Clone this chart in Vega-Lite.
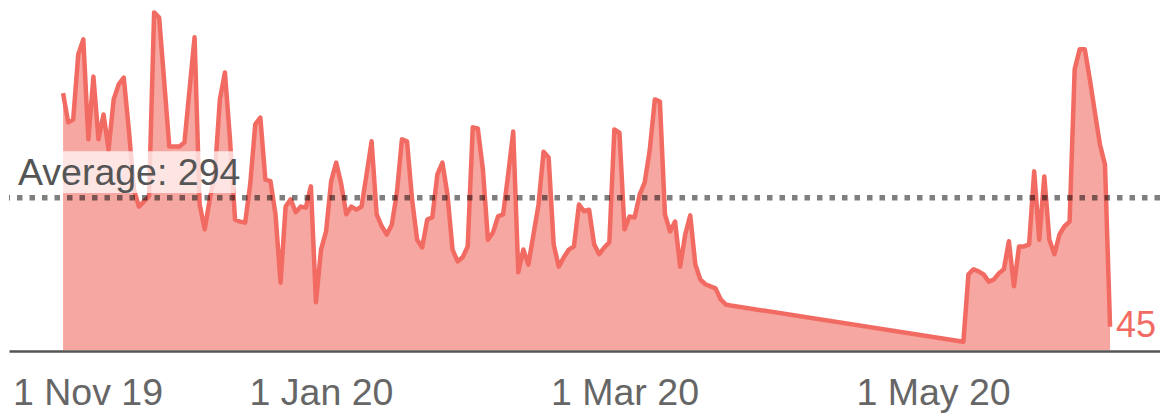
{
  "$schema": "https://vega.github.io/schema/vega-lite/v6.json",
  "width": 1151,
  "height": 350,
  "autosize": {"type": "none"},
  "padding": {"left": 9, "top": 0, "right": 0, "bottom": 64},
  "background": "white",
  "config": {"view": {"stroke": null}, "font": "Liberation Sans"},
  "datasets": {
    "series": [
      {"date": "2019-11-11", "v": 496}, {"date": "2019-11-12", "v": 440}, {"date": "2019-11-13", "v": 445},
      {"date": "2019-11-14", "v": 571}, {"date": "2019-11-15", "v": 600}, {"date": "2019-11-16", "v": 407},
      {"date": "2019-11-17", "v": 528}, {"date": "2019-11-18", "v": 407}, {"date": "2019-11-19", "v": 455},
      {"date": "2019-11-20", "v": 387}, {"date": "2019-11-21", "v": 484}, {"date": "2019-11-22", "v": 513},
      {"date": "2019-11-23", "v": 526}, {"date": "2019-11-24", "v": 426}, {"date": "2019-11-25", "v": 310},
      {"date": "2019-11-26", "v": 277}, {"date": "2019-11-27", "v": 287}, {"date": "2019-11-28", "v": 297},
      {"date": "2019-11-29", "v": 652}, {"date": "2019-11-30", "v": 642}, {"date": "2019-12-02", "v": 393},
      {"date": "2019-12-03", "v": 393}, {"date": "2019-12-04", "v": 393}, {"date": "2019-12-05", "v": 401},
      {"date": "2019-12-07", "v": 604}, {"date": "2019-12-08", "v": 281}, {"date": "2019-12-09", "v": 233},
      {"date": "2019-12-10", "v": 291}, {"date": "2019-12-11", "v": 339}, {"date": "2019-12-12", "v": 484},
      {"date": "2019-12-13", "v": 536}, {"date": "2019-12-14", "v": 407}, {"date": "2019-12-15", "v": 252},
      {"date": "2019-12-16", "v": 248}, {"date": "2019-12-17", "v": 246}, {"date": "2019-12-18", "v": 320},
      {"date": "2019-12-19", "v": 436}, {"date": "2019-12-20", "v": 449}, {"date": "2019-12-21", "v": 329},
      {"date": "2019-12-22", "v": 326}, {"date": "2019-12-23", "v": 262}, {"date": "2019-12-24", "v": 130},
      {"date": "2019-12-25", "v": 277}, {"date": "2019-12-26", "v": 291}, {"date": "2019-12-27", "v": 266},
      {"date": "2019-12-28", "v": 277}, {"date": "2019-12-29", "v": 275}, {"date": "2019-12-30", "v": 316},
      {"date": "2019-12-31", "v": 92}, {"date": "2020-01-01", "v": 194}, {"date": "2020-01-02", "v": 229},
      {"date": "2020-01-03", "v": 326}, {"date": "2020-01-04", "v": 362}, {"date": "2020-01-05", "v": 320},
      {"date": "2020-01-06", "v": 262}, {"date": "2020-01-07", "v": 277}, {"date": "2020-01-08", "v": 271},
      {"date": "2020-01-09", "v": 277}, {"date": "2020-01-10", "v": 339}, {"date": "2020-01-11", "v": 403},
      {"date": "2020-01-12", "v": 262}, {"date": "2020-01-13", "v": 239}, {"date": "2020-01-14", "v": 223},
      {"date": "2020-01-15", "v": 242}, {"date": "2020-01-16", "v": 304}, {"date": "2020-01-17", "v": 407},
      {"date": "2020-01-18", "v": 403}, {"date": "2020-01-19", "v": 291}, {"date": "2020-01-20", "v": 213},
      {"date": "2020-01-21", "v": 198}, {"date": "2020-01-22", "v": 252}, {"date": "2020-01-23", "v": 256},
      {"date": "2020-01-24", "v": 339}, {"date": "2020-01-25", "v": 362}, {"date": "2020-01-26", "v": 300},
      {"date": "2020-01-27", "v": 194}, {"date": "2020-01-28", "v": 171}, {"date": "2020-01-29", "v": 179},
      {"date": "2020-01-30", "v": 200}, {"date": "2020-01-31", "v": 430}, {"date": "2020-02-01", "v": 428},
      {"date": "2020-02-02", "v": 349}, {"date": "2020-02-03", "v": 213}, {"date": "2020-02-04", "v": 227},
      {"date": "2020-02-05", "v": 258}, {"date": "2020-02-06", "v": 262}, {"date": "2020-02-07", "v": 339},
      {"date": "2020-02-08", "v": 422}, {"date": "2020-02-09", "v": 150}, {"date": "2020-02-10", "v": 194},
      {"date": "2020-02-11", "v": 165}, {"date": "2020-02-12", "v": 223}, {"date": "2020-02-13", "v": 281},
      {"date": "2020-02-14", "v": 383}, {"date": "2020-02-15", "v": 372}, {"date": "2020-02-16", "v": 204},
      {"date": "2020-02-17", "v": 161}, {"date": "2020-02-18", "v": 179}, {"date": "2020-02-19", "v": 194},
      {"date": "2020-02-20", "v": 200}, {"date": "2020-02-21", "v": 281}, {"date": "2020-02-22", "v": 268},
      {"date": "2020-02-23", "v": 271}, {"date": "2020-02-24", "v": 204}, {"date": "2020-02-25", "v": 185},
      {"date": "2020-02-26", "v": 198}, {"date": "2020-02-27", "v": 208}, {"date": "2020-02-28", "v": 426},
      {"date": "2020-02-29", "v": 420}, {"date": "2020-03-01", "v": 233}, {"date": "2020-03-02", "v": 258},
      {"date": "2020-03-03", "v": 256}, {"date": "2020-03-04", "v": 300}, {"date": "2020-03-05", "v": 324},
      {"date": "2020-03-06", "v": 387}, {"date": "2020-03-07", "v": 484}, {"date": "2020-03-08", "v": 480},
      {"date": "2020-03-09", "v": 262}, {"date": "2020-03-10", "v": 229}, {"date": "2020-03-11", "v": 248},
      {"date": "2020-03-12", "v": 161}, {"date": "2020-03-13", "v": 223}, {"date": "2020-03-14", "v": 260},
      {"date": "2020-03-15", "v": 165}, {"date": "2020-03-16", "v": 136}, {"date": "2020-03-17", "v": 127},
      {"date": "2020-03-18", "v": 123}, {"date": "2020-03-19", "v": 119}, {"date": "2020-03-20", "v": 98},
      {"date": "2020-03-21", "v": 88}, {"date": "2020-03-22", "v": 86}, {"date": "2020-05-07", "v": 16},
      {"date": "2020-05-08", "v": 146}, {"date": "2020-05-09", "v": 156}, {"date": "2020-05-10", "v": 152},
      {"date": "2020-05-11", "v": 146}, {"date": "2020-05-12", "v": 132}, {"date": "2020-05-13", "v": 136},
      {"date": "2020-05-14", "v": 148}, {"date": "2020-05-15", "v": 156}, {"date": "2020-05-16", "v": 210},
      {"date": "2020-05-17", "v": 123}, {"date": "2020-05-18", "v": 200}, {"date": "2020-05-19", "v": 200},
      {"date": "2020-05-20", "v": 204}, {"date": "2020-05-21", "v": 345}, {"date": "2020-05-22", "v": 213},
      {"date": "2020-05-23", "v": 335}, {"date": "2020-05-24", "v": 213}, {"date": "2020-05-25", "v": 185},
      {"date": "2020-05-26", "v": 223}, {"date": "2020-05-27", "v": 239}, {"date": "2020-05-28", "v": 248},
      {"date": "2020-05-29", "v": 542}, {"date": "2020-05-30", "v": 581}, {"date": "2020-05-31", "v": 581},
      {"date": "2020-06-01", "v": 523}, {"date": "2020-06-02", "v": 459}, {"date": "2020-06-03", "v": 397},
      {"date": "2020-06-04", "v": 358}, {"date": "2020-06-05", "v": 45}
    ],
    "last": [{"date": "2020-06-05", "v": 45}],
    "avg": [{"label": "Average: 294", "avg": 294}]
  },
  "layer": [
    {
      "data": {"name": "series"},
      "mark": {"type": "area", "color": "#f6a7a1", "opacity": 1},
      "encoding": {
        "x": {
          "field": "date", "type": "temporal",
          "scale": {
            "type": "utc",
            "domain": [
              {"year": 2019, "month": 10, "date": 31, "hours": 7, "minutes": 25, "utc": true},
              {"year": 2020, "month": 6, "date": 14, "hours": 21, "utc": true}
            ]
          },
          "axis": {
            "title": null,
            "values": [
              {"year": 2019, "month": 11, "date": 1, "utc": true},
              {"year": 2020, "month": 1, "date": 1, "utc": true},
              {"year": 2020, "month": 3, "date": 1, "utc": true},
              {"year": 2020, "month": 5, "date": 1, "utc": true}
            ],
            "format": "%-d %b %y",
            "ticks": false,
            "grid": false,
            "domain": true,
            "domainColor": "#555555",
            "domainWidth": 2.6,
            "offset": 1,
            "labelFont": "Liberation Sans",
            "labelFontSize": 37.5,
            "labelColor": "#666666",
            "labelBaseline": "alphabetic",
            "labelPadding": 53,
            "labelFlush": 6,
            "labelOverlap": false
          }
        },
        "y": {
          "field": "v", "type": "quantitative",
          "scale": {"domain": [0, 676], "nice": false, "zero": true},
          "axis": null
        }
      }
    },
    {
      "data": {"name": "series"},
      "mark": {"type": "line", "color": "#f26b63", "strokeWidth": 4.5, "strokeJoin": "round"},
      "encoding": {
        "x": {"field": "date", "type": "temporal"},
        "y": {"field": "v", "type": "quantitative"}
      }
    },
    {
      "data": {"name": "avg"},
      "mark": {"type": "rule", "color": "#000000", "opacity": 0.5, "strokeWidth": 5.5, "strokeDash": [5.5, 7]},
      "encoding": {"y": {"field": "avg", "type": "quantitative"}}
    },
    {
      "data": {"name": "avg"},
      "mark": {"type": "rect", "color": "#ffffff", "opacity": 0.7},
      "encoding": {
        "x": {"datum": {"year": 2019, "month": 10, "date": 31, "hours": 12, "utc": true}},
        "x2": {"datum": {"year": 2019, "month": 12, "date": 15, "utc": true}},
        "y": {"datum": 384},
        "y2": {"datum": 303}
      }
    },
    {
      "data": {"name": "avg"},
      "mark": {"type": "text", "align": "left", "baseline": "alphabetic", "dy": -13, "fontSize": 37.5, "font": "Liberation Sans", "color": "#555555"},
      "encoding": {
        "x": {"datum": {"year": 2019, "month": 11, "date": 2, "hours": 2, "utc": true}},
        "y": {"field": "avg", "type": "quantitative"},
        "text": {"field": "label", "type": "nominal"}
      }
    },
    {
      "data": {"name": "last"},
      "mark": {"type": "text", "align": "left", "baseline": "alphabetic", "dx": 6, "dy": 10, "fontSize": 36, "font": "Liberation Sans", "color": "#f26b63"},
      "encoding": {
        "x": {"field": "date", "type": "temporal"},
        "y": {"field": "v", "type": "quantitative"},
        "text": {"field": "v", "type": "quantitative"}
      }
    }
  ]
}
